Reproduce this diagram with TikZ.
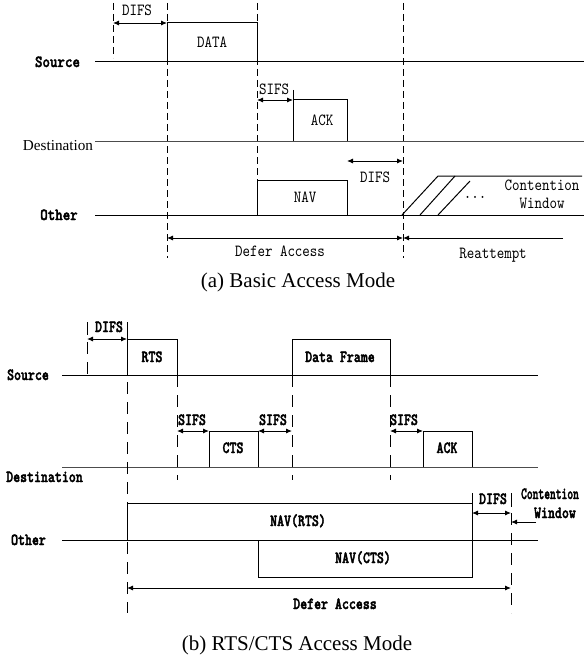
\documentclass[tikz,border=0pt]{standalone}
\usepackage{fontspec}
\setmainfont{Liberation Serif}
\newfontfamily\monoa{lmmono10-regular}[Extension=.otf, BoldFont=lmmonolt10-bold, BoldFeatures={FakeBold=2}, FakeStretch=0.84]
\newfontfamily\monob{lmmono10-regular}[Extension=.otf, BoldFont=lmmonolt10-bold, BoldFeatures={FakeBold=2.2}, FakeStretch=0.78]
\usetikzlibrary{arrows.meta}
\tikzset{
  lbl/.style={anchor=base, inner sep=0pt, font=\monoa\fontsize{17}{17}\selectfont},
  blbl/.style={anchor=base, inner sep=0pt, font=\monoa\bfseries\fontsize{17}{17}\selectfont},
  lblb/.style={anchor=base, inner sep=0pt, font=\monob\bfseries\fontsize{17}{17}\selectfont},
  capt/.style={anchor=base, inner sep=0pt, font=\fontsize{21}{21}\selectfont},
  serlbl/.style={anchor=base, inner sep=0pt, font=\fontsize{15.2}{15.2}\selectfont},
  timeline/.style={line width=1pt},
  boxline/.style={line width=1pt},
  dsha/.style={line width=0.9pt, dash pattern=on 7pt off 4pt},
  dshb/.style={line width=0.9pt, dash pattern=on 12pt off 8pt},
  tick/.style={line width=0.9pt},
  dimarrow/.style={line width=0.9pt, {Latex[length=6pt,width=5pt]}-{Latex[length=6pt,width=5pt]}},
  onearrow/.style={line width=0.9pt, -{Latex[length=6pt,width=5pt]}},
}
\begin{document}
\begin{tikzpicture}[x=1pt,y=-1pt]
\useasboundingbox (0,0) rectangle (588,658);
% ================= (a) Basic Access Mode =================
\coordinate (a1t) at (113,3);   \coordinate (a1b) at (113,58);
\coordinate (a2t) at (167,3);   \coordinate (a2b) at (167,258);
\coordinate (a3t) at (257,3);   \coordinate (a3b) at (257,180);
\coordinate (a4t) at (403,3);   \coordinate (a4b) at (403,258);
\draw[dsha] (a1t) -- (a1b);
\draw[dsha] (a2t) -- (a2b);
\draw[dsha] (a3t) -- (a3b);
\draw[dsha] (a4t) -- (a4b);
\coordinate (srcAl) at (95,62);  \coordinate (srcAr) at (584,62);
\coordinate (dstAl) at (95,141); \coordinate (dstAr) at (584,141);
\coordinate (othAl) at (95,215); \coordinate (othAr) at (584,215);
\draw[timeline] (srcAl) -- (srcAr);
\draw[timeline, black!70] (dstAl) -- (dstAr);
\draw[timeline] (othAl) -- (othAr);
\draw[boxline] (167,62) -- (167,23) -- (257,23) -- (257,62);
\draw[boxline] (293,141) -- (293,100) -- (347,100) -- (347,141);
\draw[boxline] (257,215) -- (257,180) -- (347,180) -- (347,215);
\draw[tick] (293,90) -- (293,100);
\coordinate (difsAl) at (113,23); \coordinate (difsAr) at (167,23);
\draw[dimarrow] (difsAl) -- (difsAr);
\coordinate (sifsAl) at (257,100); \coordinate (sifsAr) at (293,100);
\draw[dimarrow] (sifsAl) -- (sifsAr);
\coordinate (difsBl) at (347,161); \coordinate (difsBr) at (403,161);
\draw[dimarrow] (difsBl) -- (difsBr);
\coordinate (defAl) at (167,238); \coordinate (defAr) at (403,238);
\draw[dimarrow] (defAl) -- (defAr);
\coordinate (reatR) at (563,238);
\draw[onearrow] (reatR) -- (defAr);
\draw[timeline] (402,215) -- (438,176) -- (582,176);
\draw[timeline] (420,215) -- (455,176);
\draw[timeline] (438,215) -- (470,181);
\node[lbl] (tDifsA) at (137,16) {DIFS};
\node[lbl] (tData) at (212,48) {DATA};
\node[blbl] (tSrcA) at (57.5,67) {Source};
\node[lbl] (tSifsA) at (274,95) {SIFS};
\node[lbl] (tAckA) at (322,125) {ACK};
\node[serlbl] (tDstA) at (58,150.5) {Destination};
\node[lbl] (tNav) at (305,202) {NAV};
\node[lbl] (tDifsA2) at (375,182) {DIFS};
\node[lbl] (tDots) at (475,198) {...};
\node[lbl] (tContA) at (542,190) {Contention};
\node[lbl] (tWinA) at (542,208) {Window};
\node[blbl] (tOthA) at (59,220) {Other};
\node[lbl] (tDefA) at (280,256) {Defer Access};
\node[lbl] (tReat) at (493,258) {Reattempt};
\node[capt] (capA) at (298,287) {(a) Basic Access Mode};
% ================= (b) RTS/CTS Access Mode =================
\coordinate (srcBl) at (62,375);  \coordinate (srcBr) at (538,375);
\coordinate (dstBl) at (62,467);  \coordinate (dstBr) at (538,467);
\coordinate (othBl) at (62,540);  \coordinate (othBr) at (538,540);
\draw[timeline] (srcBl) -- (srcBr);
\draw[timeline, black!70] (dstBl) -- (dstBr);
\draw[timeline] (othBl) -- (othBr);
\draw[dshb] (87,322) -- (87,375);
\draw[dshb] (127,322) -- (127,613);
\draw[dshb] (177,375) -- (177,480);
\draw[dshb] (292,375) -- (292,480);
\draw[dshb] (390,375) -- (390,480);
\draw[dshb] (511,493) -- (511,613);
\draw[tick] (87,322) -- (87,335);
\draw[tick] (127,322) -- (127,339);
\draw[tick] (472,493) -- (472,503);
\draw[tick] (511,493) -- (511,507);
\draw[boxline] (127,375) -- (127,339) -- (177,339) -- (177,375);
\draw[boxline] (292,375) -- (292,339) -- (390,339) -- (390,375);
\draw[boxline] (209,467) -- (209,431) -- (258,431) -- (258,467);
\draw[boxline] (423,467) -- (423,431) -- (472,431) -- (472,467);
\draw[boxline] (127,540) -- (127,503) -- (472,503) -- (472,540);
\draw[boxline] (258,540) -- (258,577) -- (472,577) -- (472,540);
\draw[dimarrow] (87,339) -- (127,339);
\draw[dimarrow] (177,431) -- (209,431);
\draw[dimarrow] (258,431) -- (292,431);
\draw[dimarrow] (390,431) -- (423,431);
\draw[dimarrow] (472,513) -- (511,513);
\coordinate (cwTail) at (536,522); \coordinate (cwHead) at (511,522);
\draw[onearrow] (cwTail) -- (cwHead);
\coordinate (defBl) at (127,588); \coordinate (defBr) at (511,588);
\draw[dimarrow] (defBl) -- (defBr);
\node[lblb] (tDifsB) at (109,332) {DIFS};
\node[lblb] (tRts) at (152,362) {RTS};
\node[lblb] (tSrcB) at (28,380) {Source};
\node[lblb] (tDataF) at (340,362) {Data Frame};
\node[lblb] (tSifsB1) at (192,425) {SIFS};
\node[lblb] (tSifsB2) at (273,425) {SIFS};
\node[lblb] (tSifsB3) at (404,425) {SIFS};
\node[lblb] (tCts) at (233,453) {CTS};
\node[lblb] (tAckB) at (447,453) {ACK};
\node[lblb] (tDstB) at (44.5,482) {Destination};
\node[lblb] (tNavR) at (298,526) {NAV(RTS)};
\node[lblb] (tDifsB2) at (493,504) {DIFS};
\node[lblb] (tContB) at (550,499) {\scalebox{0.83}[1]{Contention}};
\node[lblb] (tWinB) at (555,518) {Window};
\node[lblb] (tOthB) at (28.5,545) {Other};
\node[lblb] (tNavC) at (363,563) {NAV(CTS)};
\node[lblb] (tDefB) at (335,609) {Defer Access};
\node[capt] (capB) at (297,650) {(b) RTS/CTS Access Mode};
\end{tikzpicture}
\end{document}
